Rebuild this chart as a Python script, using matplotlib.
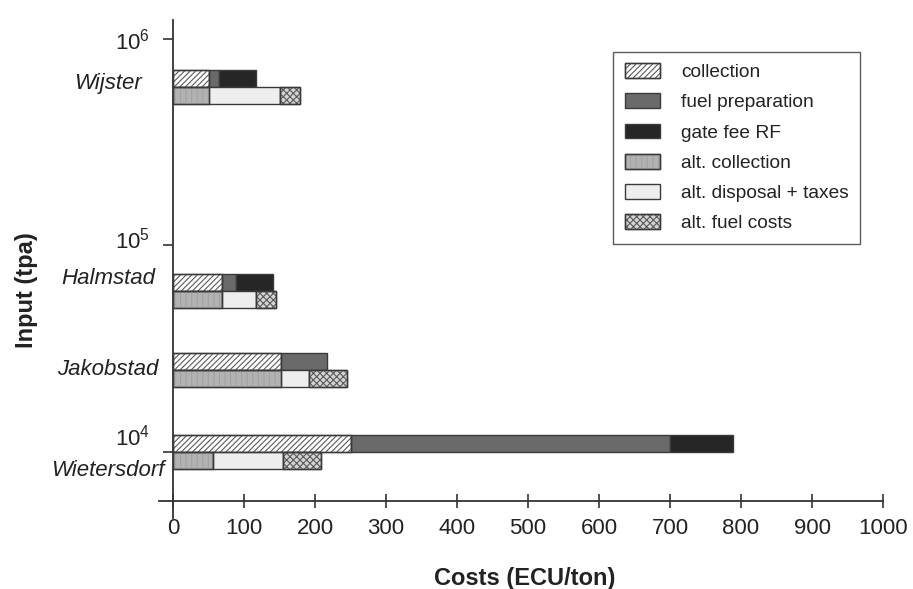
import numpy as np
import matplotlib
matplotlib.use("Agg")
import matplotlib.pyplot as plt
import matplotlib.transforms as mtransforms
from matplotlib.patches import Patch

plt.rcParams['font.family'] = ['Liberation Sans', 'DejaVu Sans']
plt.rcParams['hatch.linewidth'] = 0.8

# ---- data ----
plants = ['Wijster', 'Halmstad', 'Jakobstad', 'Wietersdorf']
input_tpa = [585000, 60000, 25000, 10000]
collection = [50, 69, 152, 250]
fuel_preparation = [15, 20, 64, 450]
gate_fee_rf = [52, 51, 0, 88]
alt_collection = [51, 69, 152, 56]
alt_disposal_taxes = [99, 48, 40, 99]
alt_fuel_costs = [28, 28, 53, 53]
x_ticks = [0, 100, 200, 300, 400, 500, 600, 700, 800, 900, 1000]
y_tick_exponents = [4, 5, 6]

top_series = [
    ('collection', collection, dict(face='white', hatch='//////', hc='#5a5a5a')),
    ('fuel preparation', fuel_preparation, dict(face='#6a6a6a', hatch=None, hc=None)),
    ('gate fee RF', gate_fee_rf, dict(face='#262626', hatch=None, hc=None)),
]
bottom_series = [
    ('alt. collection', alt_collection, dict(face='#b2b2b2', hatch='|||', hc='#a2a2a2')),
    ('alt. disposal + taxes', alt_disposal_taxes, dict(face='#eeeeee', hatch=None, hc=None)),
    ('alt. fuel costs', alt_fuel_costs, dict(face='#d4d4d4', hatch='xxxxx', hc='#5a5a5a')),
]

EDGE = '#3a3a3a'
TXT = '#222222'

fig = plt.figure(figsize=(9.13, 5.89), dpi=100)
ax = fig.add_axes([159/913, 1-518/589, 724/913, 498/589])

logy = np.log10(np.array(input_tpa, dtype=float))
bh = 0.082


def draw_stack(series, ycent):
    left = np.zeros(len(plants))
    for name, vals, st in series:
        vals = np.array(vals, dtype=float)
        for i, v in enumerate(vals):
            if v <= 0:
                continue
            ax.barh(ycent[i], v, left=left[i], height=bh, color=st['face'],
                    edgecolor=EDGE, linewidth=1.0, zorder=2)
            if st['hatch']:
                ax.barh(ycent[i], v, left=left[i], height=bh, fill=False,
                        hatch=st['hatch'], edgecolor=st['hc'], linewidth=0, zorder=3)
                ax.barh(ycent[i], v, left=left[i], height=bh, fill=False,
                        edgecolor=EDGE, linewidth=1.0, zorder=4)
        left += vals


draw_stack(top_series, logy + bh/2)
draw_stack(bottom_series, logy - bh/2)

ax.set_xlim(-20, 1000)
ax.set_ylim(3.68, 6.092)
for s in ['top', 'right']:
    ax.spines[s].set_visible(False)
ax.spines['left'].set_position(('data', 0))
ax.spines['bottom'].set_position(('data', 3.763))
for s in ['left', 'bottom']:
    ax.spines[s].set_color('#333333')
    ax.spines[s].set_linewidth(1.3)

ax.set_xticks(x_ticks)
ax.set_xticklabels([str(v) for v in x_ticks])
ax.tick_params(axis='x', direction='inout', length=10, width=1.2, color='#333333',
               labelsize=16, labelcolor=TXT, pad=7)
ax.set_yticks(y_tick_exponents)
ax.set_yticklabels([r'$\mathregular{10^{%d}}$' % e for e in y_tick_exponents])
ax.tick_params(axis='y', direction='out', length=7, width=1.2, color='#333333',
               labelsize=16, labelcolor=TXT, pad=10)
# vertical nudges of the y tick labels (pixels, upward), as in the original
ytick_label_shift_px = [17, 7, 0]
for lab, dy in zip(ax.get_yticklabels(), ytick_label_shift_px):
    lab.set_transform(lab.get_transform() +
                      mtransforms.ScaledTranslation(0, dy/100, fig.dpi_scale_trans))

# plant names
label_offsets_px = [4, 13, 0, -19]
trans = mtransforms.blended_transform_factory(fig.transFigure, ax.transData)
for name, ly, off in zip(plants, logy, label_offsets_px):
    ax.annotate(name, xy=(108/913, ly), xycoords=trans, xytext=(0, off*0.72),
                textcoords='offset points', ha='center', va='center',
                fontsize=16, style='italic', color=TXT, annotation_clip=False)

fig.text(525/913, 1-578/589, 'Costs (ECU/ton)', ha='center', va='center',
         fontsize=17, fontweight='bold', color=TXT)
fig.text(27/913, 1-290/589, 'Input (tpa)', ha='center', va='center', rotation=90,
         fontsize=17, fontweight='bold', color=TXT)

# legend
handles = []
labels = []
for name, vals, st in top_series + bottom_series:
    base = Patch(facecolor=st['face'], edgecolor=EDGE, linewidth=1.0)
    if st['hatch']:
        h = (base, Patch(fill=False, hatch=st['hatch'], edgecolor=st['hc'], linewidth=0),
             Patch(fill=False, edgecolor=EDGE, linewidth=1.0))
    else:
        h = base
    handles.append(h)
    labels.append(name)
leg = fig.legend(handles, labels, loc='upper right',
                 bbox_to_anchor=(860/913, 1-52/589), fontsize=13.8,
                 frameon=True, fancybox=False, edgecolor='#333333',
                 handlelength=1.83, handleheight=0.8, labelspacing=0.64,
                 handletextpad=1.12, borderpad=0.58, borderaxespad=0)
leg.get_frame().set_linewidth(1.0)
for t in leg.get_texts():
    t.set_color(TXT)

fig.savefig('out.png', dpi=100)
